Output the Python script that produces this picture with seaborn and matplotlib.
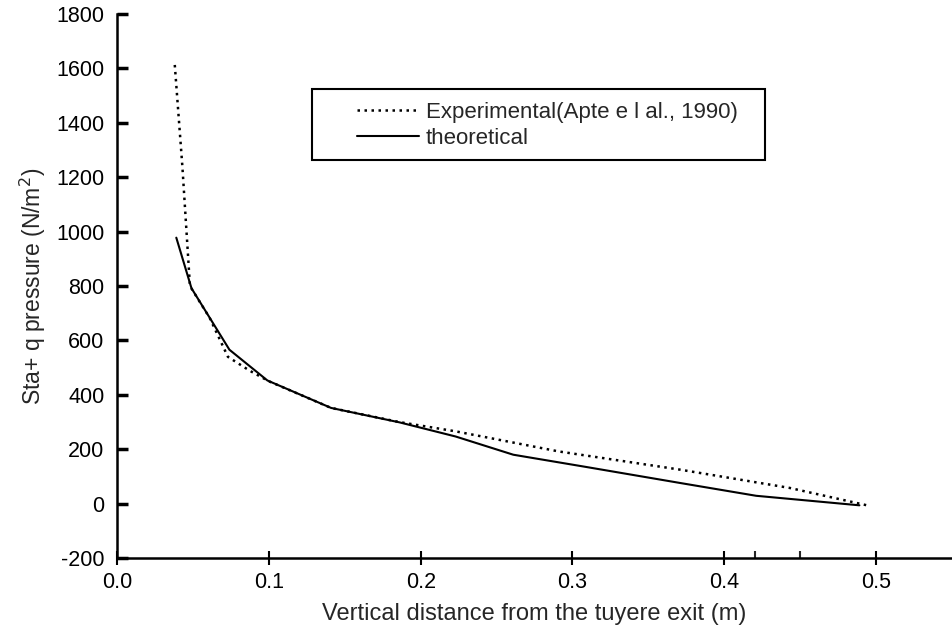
import pandas as pd
import matplotlib
matplotlib.use("Agg")
import matplotlib.pyplot as plt
from matplotlib.patches import Rectangle
import seaborn as sns

# --- Datos ---
x_teorico = [0.039, 0.049, 0.074, 0.099, 0.141, 0.186, 0.223, 0.261, 0.309, 0.371, 0.421, 0.489]
p_teorico = [978, 792, 566, 453, 352, 299, 247, 180, 135, 76, 29, -6]

x_exp = [0.038, 0.043, 0.048, 0.061, 0.073, 0.087, 0.100, 0.141, 0.186, 0.223, 0.291, 0.371, 0.443, 0.494]
p_exp = [1613, 1240, 800, 683, 540, 490, 450, 352, 300, 266, 192, 125, 58, -6]

ticks_x = [0.0, 0.1, 0.2, 0.3, 0.4, 0.5]
ticks_y = [-200, 0, 200, 400, 600, 800, 1000, 1200, 1400, 1600, 1800]

etiqueta_exp = 'Experimental(Apte e l al., 1990)'
etiqueta_teo = 'theoretical'

df_teo = pd.DataFrame({'x': x_teorico, 'p': p_teorico})
df_exp = pd.DataFrame({'x': x_exp, 'p': p_exp})

sns.set_style("ticks")
plt.rcParams['font.family'] = ['Liberation Sans', 'DejaVu Sans']
plt.rcParams['axes.unicode_minus'] = False

fig = plt.figure(figsize=(9.52, 6.4), dpi=100)
ax = fig.add_axes([0.123, 0.128, 0.877, 0.85])

sns.lineplot(ax=ax, data=df_exp, x='x', y='p', color='black', lw=1.8,
             linestyle=(0, (1, 1.8)), label=etiqueta_exp, estimator=None)
sns.lineplot(ax=ax, data=df_teo, x='x', y='p', color='black', lw=1.5,
             label=etiqueta_teo, estimator=None)

ax.set_xlim(0, 0.55)
ax.set_ylim(-200, 1800)
ax.set_xticks(ticks_x)
ax.set_xticklabels([f'{t:.1f}' for t in ticks_x])
ax.set_xticks([0.42, 0.45], minor=True)
ax.set_yticks(ticks_y)

ax.tick_params(axis='y', direction='in', length=8, width=2.5, labelsize=15.5, pad=9, colors='black')
ax.tick_params(axis='x', direction='inout', length=10, width=1.5, labelsize=15.5, pad=5, colors='black')
ax.tick_params(axis='x', which='minor', direction='in', length=5, width=1.5)

for lado in ['left', 'bottom']:
    ax.spines[lado].set_linewidth(1.8)
    ax.spines[lado].set_color('black')
sns.despine(ax=ax)

ax.set_xlabel('Vertical distance from the tuyere exit (m)', fontsize=17, labelpad=7)
ax.set_ylabel('Sta+ q pressure (N/m$^2$)', fontsize=16.5, labelpad=6)

# Recuadro de la leyenda (mas ancho que su contenido, como en el original)
ax.add_patch(Rectangle((0.2335, 0.7316), 0.5425, 0.1304, transform=ax.transAxes,
                       fill=False, edgecolor='black', lw=1.5, clip_on=False))
ax.legend(frameon=False, loc='upper left', bbox_to_anchor=(0.287, 0.839),
          borderaxespad=0, borderpad=0, handlelength=2.8, handletextpad=0.3,
          labelspacing=0.25, fontsize=16)

plt.savefig('out.png', dpi=100)
